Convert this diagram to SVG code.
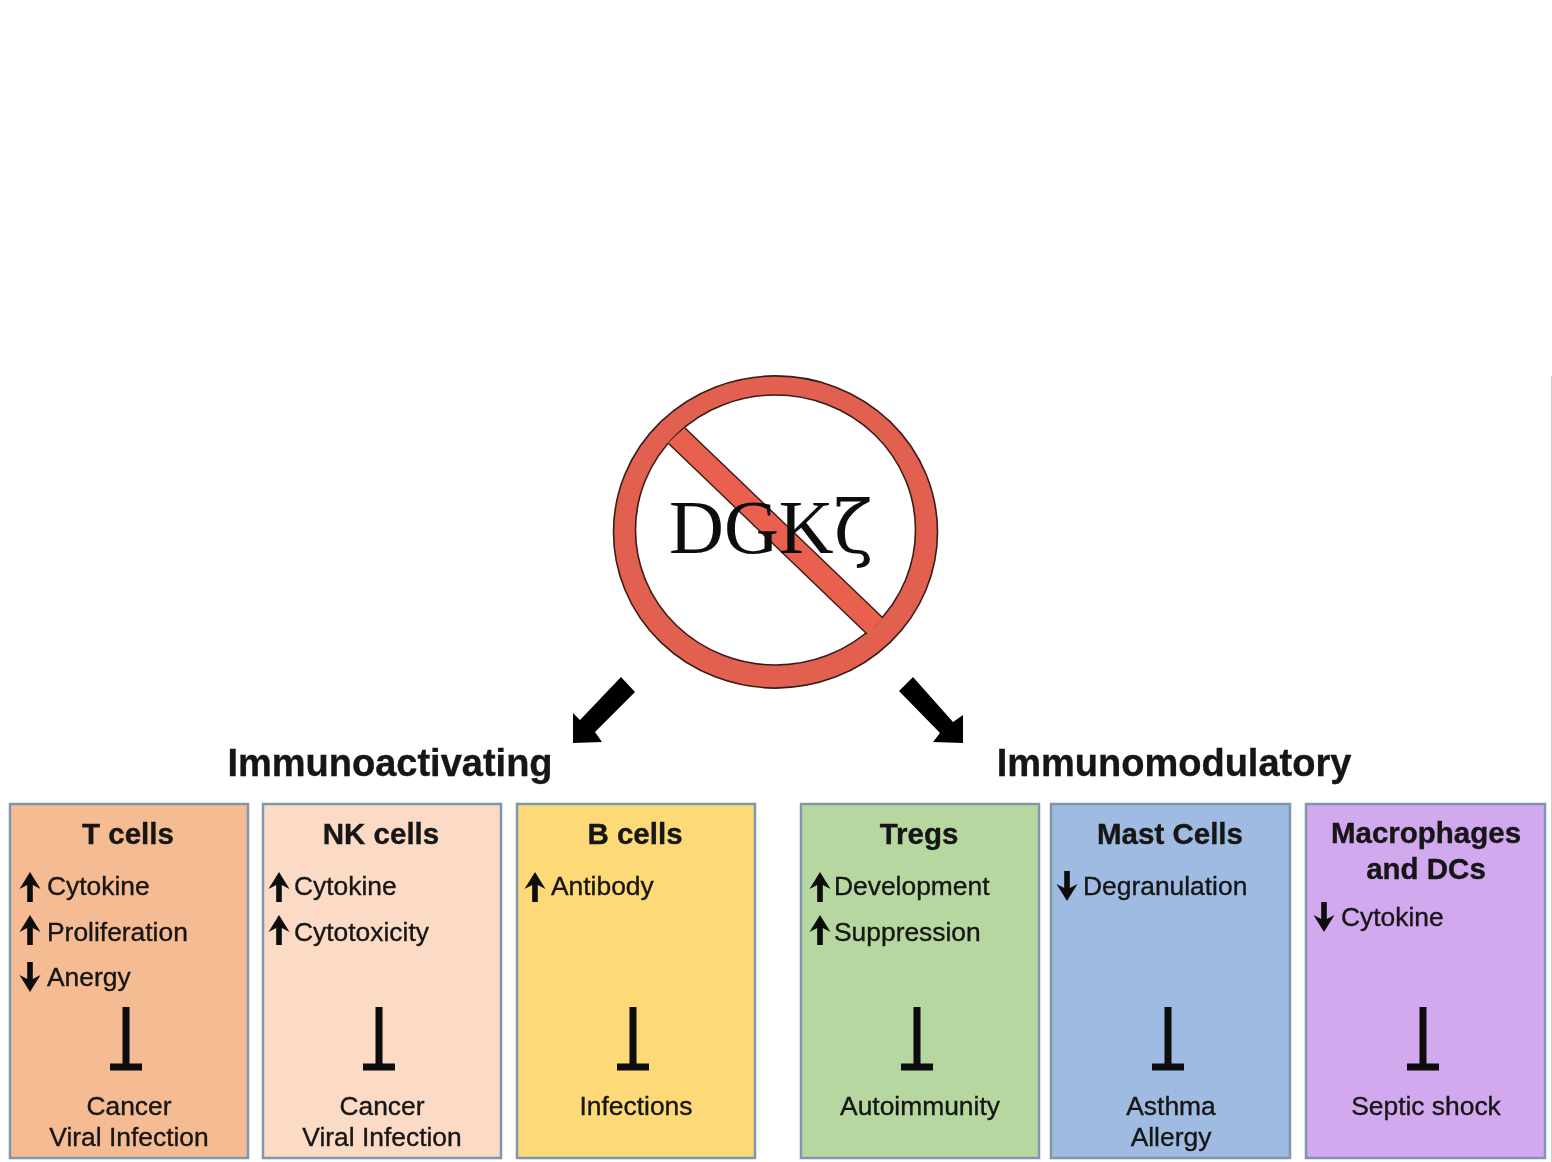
<svg xmlns="http://www.w3.org/2000/svg" width="1552" height="1162" viewBox="0 0 1552 1162">
<style>
.box{stroke:#7f97ad;stroke-width:2.5}
text{font-family:"Liberation Sans",Arial,sans-serif;fill:#141414;stroke:#141414;stroke-width:.35}
.title{font-size:29.5px;font-weight:bold;text-anchor:middle}
.head{font-size:38px;font-weight:bold;text-anchor:middle}
.item{font-size:26.4px}
.out{font-size:26.4px;text-anchor:middle}
.ring{fill:#e2614f;stroke:#3a1c17;stroke-width:1.6}
</style>
<defs>
<filter id="soft" filterUnits="userSpaceOnUse" x="0" y="0" width="1552" height="1162"><feGaussianBlur stdDeviation="0.55"/></filter>
<path id="up" d="M0,-15 L10.5,2 L2.8,-2 V15 H-2.8 V-2 L-10.5,2 Z" fill="#0a0a0a"/>
<path id="down" d="M0,15 L10.5,-2 L2.8,2 V-15 H-2.8 V2 L-10.5,-2 Z" fill="#0a0a0a"/>
<path id="tbar" d="M-3.500,-1 H3.500 V55.500 H16 V62.500 H-16 V55.500 H-3.500 Z" fill="#0a0a0a"/>
</defs>
<rect width="1552" height="1162" fill="#ffffff"/>
<line x1="1551.5" y1="376" x2="1551.5" y2="1162" stroke="#cfcfcf" stroke-width="1"/>
<g filter="url(#soft)">
<g id="dgk">
<path class="ring" fill-rule="evenodd" d="M613.5,532a162,156 0 1,0 324,0a162,156 0 1,0 -324,0Z M635.5,530a140,135 0 1,1 280,0a140,135 0 1,1 -280,0Z"/>
<polygon points="685,428 883,618 867,634 668,443" fill="#e9604f"/>
<path d="M685,428 L883,618 M867,634 L668,443" stroke="#3a1c17" stroke-width="1.4" fill="none"/>
<text x="669" y="553" font-size="76" style="font-family:'Liberation Serif','Times New Roman',serif;fill:#0a0a0a;stroke:none">DGK<tspan style="font-family:'DejaVu Serif',serif" font-size="72">ζ</tspan></text>
</g>

<g id="connectors">
<polygon points="621,677 635,692 595,732 602,742 573,743 573,713 580,720" fill="#050505"/>
<polygon points="913,677 899,691 940,733 933,742 963,743 963,715 953,722" fill="#050505"/>
</g>

<g id="label-immunoactivating"><text class="head" x="390" y="776">Immunoactivating</text></g>
<g id="label-immunomodulatory"><text class="head" x="1174" y="776">Immunomodulatory</text></g>

<g id="t-cells">
<rect class="box" x="10" y="804" width="238" height="354" fill="#f5bb93"/>
<text class="title" x="128" y="844">T cells</text>
<use href="#up" x="30" y="887"/><text class="item" x="47" y="895">Cytokine</text>
<use href="#up" x="30" y="930"/><text class="item" x="47" y="941">Proliferation</text>
<use href="#down" x="30" y="977"/><text class="item" x="47" y="986">Anergy</text>
<use href="#tbar" x="126" y="1008"/>
<text class="out" x="129" y="1115">Cancer</text><text class="out" x="129" y="1146">Viral Infection</text>
</g>

<g id="nk-cells">
<rect class="box" x="263" y="804" width="238" height="354" fill="#fbdac6"/>
<text class="title" x="381" y="844">NK cells</text>
<use href="#up" x="279" y="887"/><text class="item" x="294" y="895">Cytokine</text>
<use href="#up" x="279" y="930"/><text class="item" x="294" y="941">Cytotoxicity</text>
<use href="#tbar" x="379" y="1008"/>
<text class="out" x="382" y="1115">Cancer</text><text class="out" x="382" y="1146">Viral Infection</text>
</g>

<g id="b-cells">
<rect class="box" x="517" y="804" width="238" height="354" fill="#fdd977"/>
<text class="title" x="635" y="844">B cells</text>
<use href="#up" x="535" y="887"/><text class="item" x="551" y="895">Antibody</text>
<use href="#tbar" x="633" y="1008"/>
<text class="out" x="636" y="1115">Infections</text>
</g>

<g id="tregs">
<rect class="box" x="801" y="804" width="238" height="354" fill="#b7d7a0"/>
<text class="title" x="919" y="844">Tregs</text>
<use href="#up" x="820" y="887"/><text class="item" x="834" y="895">Development</text>
<use href="#up" x="820" y="930"/><text class="item" x="834" y="941">Suppression</text>
<use href="#tbar" x="917" y="1008"/>
<text class="out" x="920" y="1115">Autoimmunity</text>
</g>

<g id="mast-cells">
<rect class="box" x="1051" y="804" width="239" height="354" fill="#9fbbe1"/>
<text class="title" x="1170" y="844">Mast Cells</text>
<use href="#down" x="1067" y="886"/><text class="item" x="1083" y="895">Degranulation</text>
<use href="#tbar" x="1168" y="1008"/>
<text class="out" x="1171" y="1115">Asthma</text><text class="out" x="1171" y="1146">Allergy</text>
</g>

<g id="macrophages-dcs">
<rect class="box" x="1306" y="804" width="239" height="354" fill="#d2a9ee"/>
<text class="title" x="1426" y="843">Macrophages</text><text class="title" x="1426" y="879">and DCs</text>
<use href="#down" x="1324" y="917"/><text class="item" x="1341" y="926">Cytokine</text>
<use href="#tbar" x="1423" y="1008"/>
<text class="out" x="1426" y="1115">Septic shock</text>
</g>
</g>
</svg>
